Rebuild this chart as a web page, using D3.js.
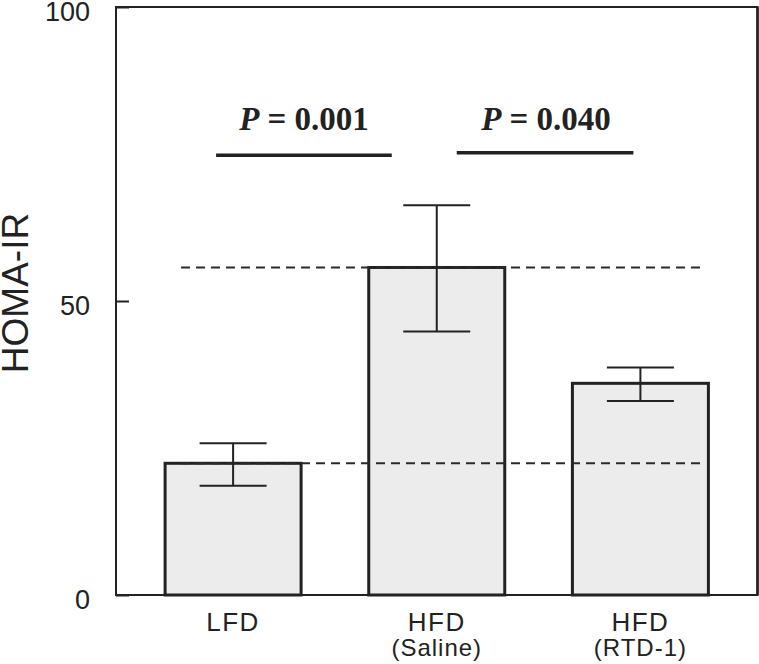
<!DOCTYPE html>
<html>
<head>
<meta charset="utf-8">
<script src="https://cdn.jsdelivr.net/npm/d3@7"></script>
<style>
  html, body { margin: 0; padding: 0; background: #fff; }
  svg { display: block; }
</style>
</head>
<body>
<svg id="chart" width="759" height="664"></svg>
<script>
// ---- data ----
const categories = ["LFD", "HFD (Saline)", "HFD (RTD-1)"];
const labelLine1 = ["LFD", "HFD", "HFD"];
const labelLine2 = ["", "(Saline)", "(RTD-1)"];
const means = [22.4, 55.7, 36.0];
const errLow = [18.6, 44.8, 33.0];
const errHigh = [25.8, 66.3, 38.7];
const yTicks = [0, 50, 100];
const refLevels = [55.7, 22.4];
const pLabels = ["0.001", "0.040"];
const pLevels = [74.8, 75.2];

// ---- layout ----
const L = 116, R = 757.5, T = 7, B = 595;
const svg = d3.select("#chart");
const x = d3.scalePoint().domain(categories).range([L, R]).padding(0.575);
const y = d3.scaleLinear().domain([0, 100]).range([B, T]);
const bw = 136, capW = 67;
const ink = "#222";

// bars
svg.selectAll("rect.bar").data(categories).join("rect")
  .attr("class", "bar")
  .attr("x", d => x(d) - bw / 2)
  .attr("width", bw)
  .attr("y", (d, i) => y(means[i]))
  .attr("height", (d, i) => y(0) - y(means[i]))
  .attr("fill", "#ececec")
  .attr("stroke", ink).attr("stroke-width", 3);

// reference dashed lines (drawn over the bars)
svg.selectAll("line.ref").data(refLevels).join("line")
  .attr("class", "ref")
  .attr("x1", 181).attr("x2", 702)
  .attr("y1", d => y(d)).attr("y2", d => y(d))
  .attr("stroke", "#2a2a2a").attr("stroke-width", 2)
  .attr("stroke-dasharray", "9,6");

// error bars
const eg = svg.append("g").attr("stroke", ink).attr("stroke-width", 2);
categories.forEach((c, i) => {
  const cx = x(c);
  eg.append("line").attr("x1", cx).attr("x2", cx).attr("y1", y(errHigh[i])).attr("y2", y(errLow[i]));
  eg.append("line").attr("x1", cx - capW / 2).attr("x2", cx + capW / 2).attr("y1", y(errHigh[i])).attr("y2", y(errHigh[i]));
  eg.append("line").attr("x1", cx - capW / 2).attr("x2", cx + capW / 2).attr("y1", y(errLow[i])).attr("y2", y(errLow[i]));
});

// frame
svg.append("path")
  .attr("d", `M${L},${B}V${T}H${R}V${B}Z`)
  .attr("fill", "none").attr("stroke", ink).attr("stroke-width", 2);
svg.append("line").attr("x1", R).attr("x2", R).attr("y1", T).attr("y2", B)
  .attr("stroke", ink).attr("stroke-width", 2.5);

// y axis
const yAxis = d3.axisLeft(y).tickValues(yTicks).tickSize(-13).tickPadding(0).tickFormat(d3.format("d"));
const ya = svg.append("g").attr("transform", `translate(${L},0)`).call(yAxis);
ya.select(".domain").remove();
ya.selectAll(".tick line").attr("stroke", ink).attr("stroke-width", 2);
ya.selectAll(".tick text")
  .attr("x", -26).attr("dy", null).attr("y", 13)
  .attr("fill", "#222")
  .style("font-family", "'Liberation Sans', Arial, sans-serif")
  .style("font-size", "27px");

// y label
svg.append("text")
  .attr("transform", `translate(28,293) rotate(-90)`)
  .attr("text-anchor", "middle")
  .attr("fill", "#222")
  .style("font-family", "'Liberation Sans', Arial, sans-serif")
  .style("font-size", "37px")
  .text("HOMA-IR");

// x labels
const xl = svg.append("g")
  .attr("fill", "#222")
  .attr("text-anchor", "middle")
  .style("font-family", "'Liberation Sans', Arial, sans-serif");
categories.forEach((c, i) => {
  xl.append("text").attr("x", x(c)).attr("y", 631)
    .style("font-size", "26px").style("letter-spacing", "1.5px").text(labelLine1[i]);
  if (labelLine2[i]) {
    xl.append("text").attr("x", x(c)).attr("y", 656)
      .style("font-size", "24px").style("letter-spacing", "1px").text(labelLine2[i]);
  }
});

// significance annotations
const sig = [
  { x1: x(categories[0]) - 17, x2: x(categories[1]) - 45, tx: 304 },
  { x1: x(categories[1]) + 20, x2: x(categories[2]) - 7, tx: 546 }
];
sig.forEach((s, i) => {
  svg.append("line")
    .attr("x1", s.x1).attr("x2", s.x2)
    .attr("y1", y(pLevels[i])).attr("y2", y(pLevels[i]))
    .attr("stroke", ink).attr("stroke-width", 3.5);
  const t = svg.append("text")
    .attr("x", s.tx).attr("y", 130)
    .attr("text-anchor", "middle")
    .attr("fill", "#222")
    .style("font-family", "'Liberation Serif', 'Times New Roman', serif")
    .style("font-weight", "bold")
    .style("font-size", "33px");
  t.append("tspan").style("font-style", "italic").text("P");
  t.append("tspan").text(" = " + pLabels[i]);
});
</script>
</body>
</html>
